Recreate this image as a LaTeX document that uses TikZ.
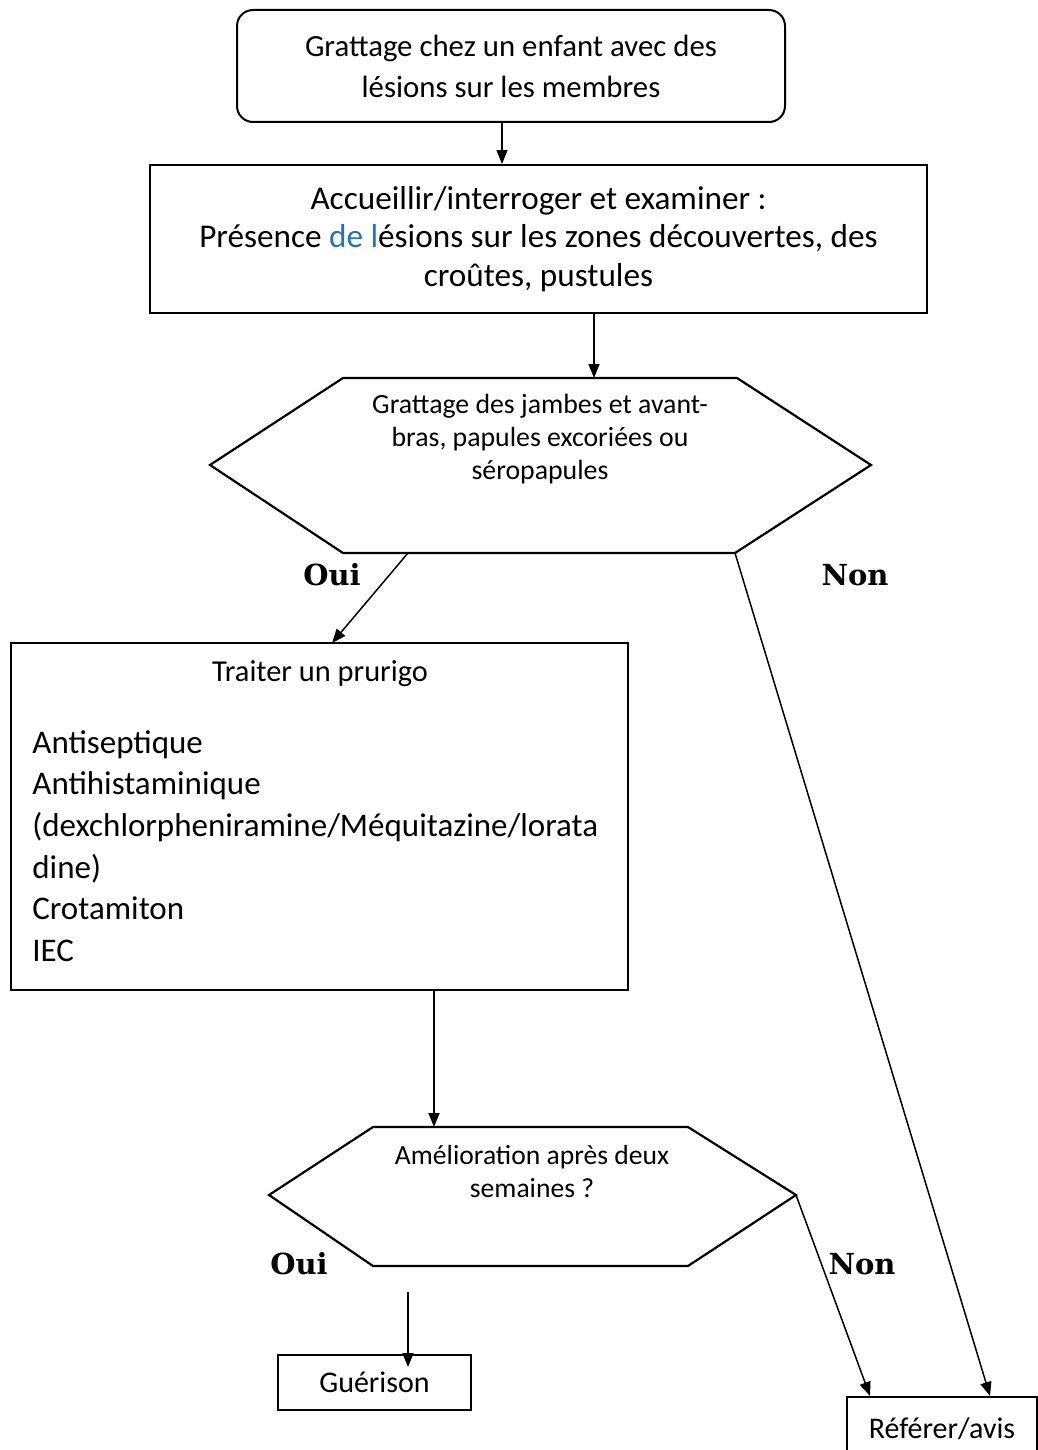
\documentclass[tikz,border=0pt]{standalone}
\usepackage{fontspec}
\setmainfont{Carlito}
\newfontfamily\slabfont{DejaVu Serif}
\usepackage{xcolor,tikz}
\usetikzlibrary{positioning,calc,arrows.meta}
\definecolor{pruLine}{HTML}{000000}
\definecolor{pruBlue}{HTML}{1F73B7}

\begin{document}
\begin{tikzpicture}[x=0.5pt,y=-0.5pt,
  arr/.style={-{Triangle[length=7pt,width=5.5pt]}, line width=0.75pt, color=pruLine},
  plainbox/.style={draw=pruLine, line width=1pt, inner sep=0pt},
  hexline/.style={draw=pruLine, line width=1.1pt, line join=miter},
  answer/.style={font=\slabfont\bfseries\fontsize{14.5}{16}\selectfont, inner sep=0pt}]

% --- PAGE ---
\useasboundingbox (0,0) rectangle (1038,1450);
\clip (0,0) rectangle (1038,1450);

% --- START BOX ---
\node[plainbox, rounded corners=8pt, minimum width=274pt, minimum height=56pt,
  align=center, font=\fontsize{15.4}{20.5}\selectfont] (start) at (511,66)
  {Grattage chez un enfant avec des\\ lésions sur les membres};

% --- EXAMINATION ---
\node[plainbox, minimum width=388.5pt, minimum height=74pt,
  align=center, font=\fontsize{16.6}{19.2}\selectfont] (exam) at (538.5,239)
  {Accueillir/interroger et examiner :\\
   Présence {\color{pruBlue}de l}ésions sur les zones découvertes, des\\
   croûtes, pustules};

% --- FIRST QUESTION (hexagon) ---
\coordinate (h1a) at (343,378);
\coordinate (h1b) at (737,378);
\coordinate (h1c) at (871,465);
\coordinate (h1d) at (735,553);
\coordinate (h1e) at (343,553);
\coordinate (h1f) at (210,465);
\coordinate (h1in) at (594,378);
\coordinate (h1oui) at (408,553);
\draw[hexline] (h1a) -- (h1b) -- (h1c) -- (h1d) -- (h1e) -- (h1f) -- cycle;
\node[align=center, inner sep=0pt, font=\fontsize{13.9}{16.5}\selectfont] (quest) at (540,439)
  {Grattage des jambes et avant-\\ bras, papules excoriées ou\\ séropapules};

\node[answer] (oui1) at (332,575) {Oui};
\node[answer] (non1) at (855,575) {Non};

% --- TREATMENT ---
\node[plainbox, minimum width=308.5pt, minimum height=173.5pt] (trait) at (319.5,816.5) {};
\node[inner sep=0pt, font=\fontsize{15.2}{16}\selectfont] (traitT) at (320,674) {Traiter un prurigo};
\node[anchor=north west, align=left, inner sep=0pt, font=\fontsize{16.5}{20.8}\selectfont]
  (traitL) at (32,730)
  {Antiseptique\\ Antihistaminique\\ (dexchlorpheniramine/Méquitazine/lorata\\ dine)\\
   Crotamiton\\ IEC};
\coordinate (trIn) at (332,643);

% --- SECOND QUESTION (hexagon) ---
\coordinate (h2a) at (373,1127);
\coordinate (h2b) at (688,1127);
\coordinate (h2c) at (796,1195);
\coordinate (h2d) at (688,1266);
\coordinate (h2e) at (373,1266);
\coordinate (h2f) at (269,1195);
\coordinate (h2in) at (434,1127);
\draw[hexline] (h2a) -- (h2b) -- (h2c) -- (h2d) -- (h2e) -- (h2f) -- cycle;
\node[align=center, inner sep=0pt, font=\fontsize{13.8}{16.5}\selectfont] (amel) at (532,1172)
  {Amélioration après deux\\ semaines ?};

\node[answer] (oui2) at (299,1264) {Oui};
\node[answer] (non2) at (862,1264) {Non};

% --- OUTCOMES ---
\node[plainbox, minimum width=96.5pt, minimum height=27.5pt,
  font=\fontsize{15}{16}\selectfont] (guer) at (374.5,1382.5) {Guérison};
\node[plainbox, minimum width=95pt, minimum height=31.5pt,
  font=\fontsize{15}{16}\selectfont] (ref) at (942,1428.5) {Référer/avis};
\coordinate (g0) at (408,1292);

% --- CONNECTORS ---
\draw[arr] ([xshift=-4.5pt]start.south) -- ([xshift=-4.5pt]start.south |- exam.north);
\draw[arr] (exam.south -| h1in) -- (h1in);
\draw[arr] (h1oui) -- (trIn);
\draw[arr] (h1d) -- ([xshift=24pt]ref.north);
\draw[arr] (trait.south -| h2in) -- (h2in);
\draw[arr] (h2c) -- ([xshift=-36pt]ref.north);
\draw[arr] (g0) -- ([xshift=16.75pt,yshift=-6.5pt]guer.north);

\end{tikzpicture}
\end{document}
